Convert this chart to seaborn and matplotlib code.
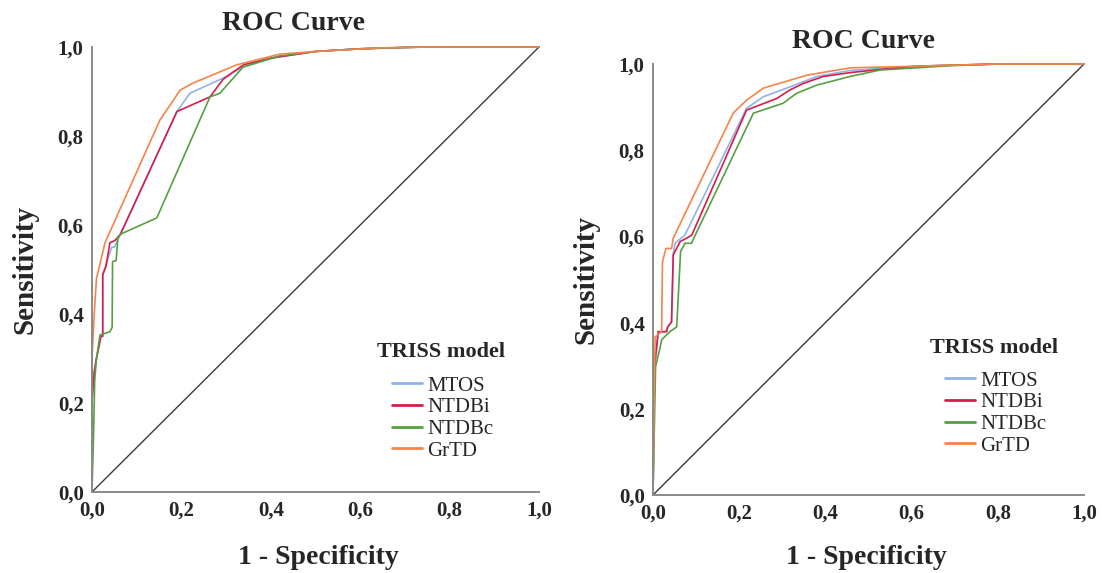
import numpy as np
import pandas as pd
import matplotlib
matplotlib.use("Agg")
import matplotlib.pyplot as plt
from matplotlib.ticker import FuncFormatter
import seaborn as sns

sns.set_theme(style="white")
plt.rcParams['font.family'] = ['Liberation Serif', 'DejaVu Serif']

models = ["MTOS", "NTDBi", "NTDBc", "GrTD"]
colors = ["#8db4ea", "#d91c4a", "#55a040", "#f5844a"]

# ---- left panel ROC points (1 - specificity, sensitivity)
mtos_l_x = [0, 0.0, 0.005, 0.01, 0.02, 0.024, 0.024, 0.031, 0.044, 0.05, 0.063, 0.19, 0.219, 0.293, 0.338, 0.40, 0.50, 0.60, 0.70, 0.75, 1.0]
mtos_l_y = [0, 0.22, 0.27, 0.30, 0.35, 0.35, 0.49, 0.51, 0.55, 0.55, 0.578, 0.855, 0.896, 0.93, 0.955, 0.975, 0.99, 0.996, 0.999, 1.0, 1.0]
ntdbi_l_x = [0, 0, 0.005, 0.01, 0.02, 0.024, 0.024, 0.031, 0.04, 0.051, 0.063, 0.19, 0.264, 0.293, 0.316, 0.339, 0.40, 0.5, 0.6, 0.7, 0.75, 1.0]
ntdbi_l_y = [0, 0.2, 0.27, 0.30, 0.35, 0.35, 0.488, 0.506, 0.56, 0.565, 0.578, 0.855, 0.888, 0.927, 0.944, 0.96, 0.975, 0.99, 0.996, 0.999, 1.0, 1.0]
ntdbc_l_x = [0, 0.004, 0.006, 0.01, 0.018, 0.04, 0.045, 0.046, 0.054, 0.058, 0.065, 0.145, 0.264, 0.286, 0.316, 0.338, 0.42, 0.5, 0.6, 0.7, 0.75, 1.0]
ntdbc_l_y = [0, 0.15, 0.25, 0.30, 0.353, 0.36, 0.37, 0.518, 0.52, 0.574, 0.58, 0.616, 0.888, 0.896, 0.93, 0.955, 0.98, 0.99, 0.996, 0.999, 1.0, 1.0]
grtd_l_x = [0, 0, 0.005, 0.01, 0.015, 0.029, 0.152, 0.175, 0.197, 0.226, 0.324, 0.42, 0.5, 0.644, 0.75, 1.0]
grtd_l_y = [0, 0.30, 0.40, 0.48, 0.50, 0.56, 0.836, 0.87, 0.903, 0.919, 0.96, 0.984, 0.99, 0.998, 1.0, 1.0]

# ---- right panel ROC points
mtos_r_x = [0, 0.003, 0.008, 0.012, 0.03, 0.034, 0.043, 0.047, 0.051, 0.074, 0.217, 0.256, 0.318, 0.38, 0.457, 0.534, 0.65, 0.8, 1.0]
mtos_r_y = [0, 0.28, 0.33, 0.375, 0.38, 0.39, 0.40, 0.56, 0.584, 0.603, 0.897, 0.924, 0.947, 0.971, 0.985, 0.99, 0.996, 1.0, 1.0]
ntdbi_r_x = [0, 0.003, 0.008, 0.012, 0.032, 0.034, 0.043, 0.047, 0.063, 0.078, 0.09, 0.217, 0.287, 0.318, 0.349, 0.395, 0.457, 0.534, 0.61, 0.8, 1.0]
ntdbi_r_y = [0, 0.30, 0.34, 0.379, 0.379, 0.39, 0.402, 0.557, 0.588, 0.596, 0.603, 0.893, 0.92, 0.94, 0.955, 0.971, 0.98, 0.988, 0.995, 1.0, 1.0]
ntdbc_r_x = [0, 0.003, 0.006, 0.016, 0.02, 0.039, 0.055, 0.064, 0.074, 0.089, 0.233, 0.302, 0.333, 0.38, 0.457, 0.527, 0.69, 0.8, 1.0]
ntdbc_r_y = [0, 0.15, 0.298, 0.34, 0.36, 0.379, 0.39, 0.565, 0.584, 0.584, 0.886, 0.909, 0.932, 0.951, 0.971, 0.986, 0.996, 1.0, 1.0]
grtd_r_x = [0, 0.003, 0.005, 0.02, 0.022, 0.03, 0.043, 0.047, 0.186, 0.217, 0.256, 0.357, 0.457, 0.69, 0.8, 1.0]
grtd_r_y = [0, 0.25, 0.367, 0.379, 0.541, 0.572, 0.572, 0.596, 0.886, 0.916, 0.944, 0.974, 0.991, 0.997, 1.0, 1.0]

ref_line = [0.0, 1.0]
ticks = [0.0, 0.2, 0.4, 0.6, 0.8, 1.0]


def build(series):
    frames = []
    for name, (xs, ys) in zip(models, series):
        frames.append(pd.DataFrame({"fpr": xs, "tpr": ys, "model": name}))
    return pd.concat(frames, ignore_index=True)


left_df = build([(mtos_l_x, mtos_l_y), (ntdbi_l_x, ntdbi_l_y),
                 (ntdbc_l_x, ntdbc_l_y), (grtd_l_x, grtd_l_y)])
right_df = build([(mtos_r_x, mtos_r_y), (ntdbi_r_x, ntdbi_r_y),
                  (ntdbc_r_x, ntdbc_r_y), (grtd_r_x, grtd_r_y)])

W, H = 1102, 573
fig = plt.figure(figsize=(W / 100, H / 100), dpi=100)
fig.patch.set_facecolor("white")

axL = fig.add_axes([92 / W, 1 - 492 / H, 447 / W, 445 / H])
axR = fig.add_axes([653 / W, 1 - 495 / H, 431 / W, 431 / H])

fmt = FuncFormatter(lambda v, p: f"{v:.1f}".replace(".", ","))
palette = dict(zip(models, colors))

# (axes, data, legend title px (x, y), title px, ylabel px, xlabel px, first entry y px)
configs = [
    (axL, left_df, (377, 352), (294, 24), (25, 270), (318, 557), 376),
    (axR, right_df, (930, 348), (864, 41), (586, 280), (866, 558), 371),
]

for ax, df, leg_pos, title_pos, ylab_pos, xlab_pos, entry_top in configs:
    ax.plot(ref_line, ref_line, color="#3a3a3a", lw=1.0, zorder=1)
    sns.lineplot(data=df, x="fpr", y="tpr", hue="model", hue_order=models,
                 palette=palette, sort=False, estimator=None, units="model",
                 lw=1.2, ax=ax, legend=False, zorder=2)
    ax.set_xlim(0, 1)
    ax.set_ylim(0, 1)
    ax.set_xticks(ticks)
    ax.set_yticks(ticks)
    ax.xaxis.set_major_formatter(fmt)
    ax.yaxis.set_major_formatter(fmt)
    ax.tick_params(length=0, pad=6, labelsize=15)
    for lab in ax.get_xticklabels() + ax.get_yticklabels():
        lab.set_fontweight("bold")
    ax.set_xlabel("")
    ax.set_ylabel("")
    for s in ["top", "right"]:
        ax.spines[s].set_visible(False)
    for s in ["left", "bottom"]:
        ax.spines[s].set_color("#8a8a8a")
        ax.spines[s].set_linewidth(1.4)
    ax.grid(False)
    for line in ax.get_lines():
        line.set_clip_on(False)

    fig.text(title_pos[0] / W, 1 - title_pos[1] / H, "ROC Curve", ha="center", va="center",
             fontsize=20, fontweight="bold")
    fig.text(ylab_pos[0] / W, 1 - ylab_pos[1] / H, "Sensitivity", ha="center", va="center",
             rotation=90, fontsize=21, fontweight="bold")
    fig.text(xlab_pos[0] / W, 1 - xlab_pos[1] / H, "1 - Specificity", ha="center", va="center",
             fontsize=20, fontweight="bold")
    fig.text(leg_pos[0] / W, 1 - leg_pos[1] / H, "TRISS model", ha="left", va="center",
             fontsize=16, fontweight="bold")

    handles = [plt.Line2D([], [], color=c, lw=2.0) for c in colors]
    ax.legend(handles, models, loc="upper left",
              bbox_to_anchor=((leg_pos[0] + 15) / W, 1 - entry_top / H),
              bbox_transform=fig.transFigure, frameon=False,
              fontsize=15, handlelength=1.45, handletextpad=0.25,
              labelspacing=0.1, borderpad=0, borderaxespad=0)

fig.savefig("out.png", dpi=100, facecolor="white")
